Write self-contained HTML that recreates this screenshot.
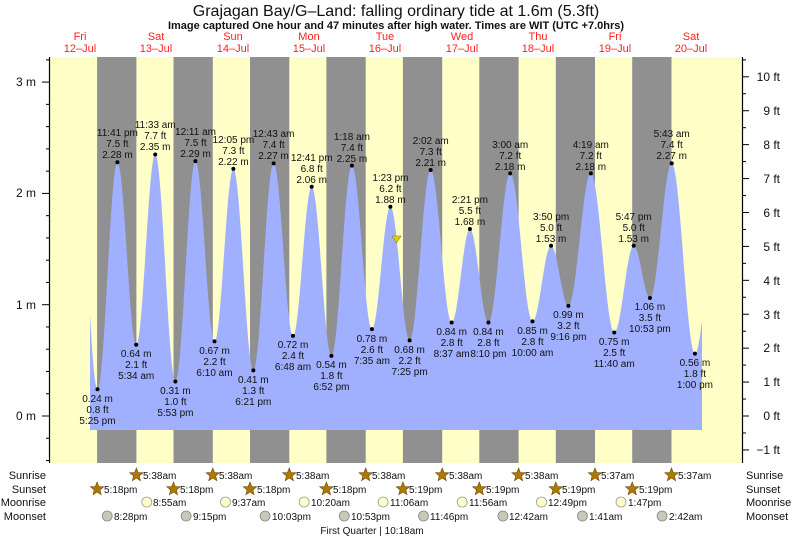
<!DOCTYPE html>
<html><head><meta charset="utf-8"><style>
html,body{margin:0;padding:0;background:#fff;}
svg{display:block;font-family:"Liberation Sans",sans-serif;}
.l text,.l{font-size:10px;fill:#111;text-anchor:middle;}
.d{font-size:11px;fill:#ff2020;text-anchor:middle;}
.ax{font-size:12px;fill:#111;}
.rl{font-size:11px;fill:#111;}
.ev{font-size:10px;fill:#111;}
</style></head><body>
<svg width="793" height="537" viewBox="0 0 793 537" xmlns="http://www.w3.org/2000/svg">
<rect x="0" y="0" width="793" height="537" fill="#fff"/>
<text x="396" y="16" font-size="16" text-anchor="middle" fill="#111">Grajagan Bay/G–Land: falling  ordinary tide at 1.6m (5.3ft)</text>
<text x="396" y="29" font-size="11" font-weight="bold" text-anchor="middle" fill="#111">Image captured One hour and 47 minutes after high water. Times are WIT (UTC +7.0hrs)</text>
<g class="d">
<text x="80" y="40">Fri</text><text x="80" y="52">12–Jul</text>
<text x="156" y="40">Sat</text><text x="156" y="52">13–Jul</text>
<text x="233" y="40">Sun</text><text x="233" y="52">14–Jul</text>
<text x="309" y="40">Mon</text><text x="309" y="52">15–Jul</text>
<text x="385" y="40">Tue</text><text x="385" y="52">16–Jul</text>
<text x="462" y="40">Wed</text><text x="462" y="52">17–Jul</text>
<text x="538" y="40">Thu</text><text x="538" y="52">18–Jul</text>
<text x="615" y="40">Fri</text><text x="615" y="52">19–Jul</text>
<text x="691" y="40">Sat</text><text x="691" y="52">20–Jul</text>
</g>
<rect x="50" y="57" width="692" height="406" fill="#ffffc8"/>
<g fill="#909090">
<rect x="97.1" y="57" width="39.3" height="406"/><rect x="173.5" y="57" width="39.3" height="406"/>
<rect x="250" y="57" width="39.3" height="406"/><rect x="326.4" y="57" width="39.3" height="406"/>
<rect x="402.9" y="57" width="39.3" height="406"/><rect x="479.3" y="57" width="39.3" height="406"/>
<rect x="555.8" y="57" width="39.2" height="406"/><rect x="632.2" y="57" width="39.3" height="406"/>
</g>
<path id="tide" fill="#a0b0ff" d=""/>
<polygon points="392,236 401,236 396.5,243" fill="#d8d020" stroke="#888800" stroke-width="0.6"/>
<g fill="#000" id="dots"></g>
<g class="l">
<text x="97.5" y="402"><tspan x="97.5">0.24 m</tspan><tspan x="97.5" dy="11">0.8 ft</tspan><tspan x="97.5" dy="11">5:25 pm</tspan></text>
<text x="117.4" y="136"><tspan x="117.4">11:41 pm</tspan><tspan x="117.4" dy="11">7.5 ft</tspan><tspan x="117.4" dy="11">2.28 m</tspan></text>
<text x="136.2" y="357"><tspan x="136.2">0.64 m</tspan><tspan x="136.2" dy="11">2.1 ft</tspan><tspan x="136.2" dy="11">5:34 am</tspan></text>
<text x="155.2" y="128"><tspan x="155.2">11:33 am</tspan><tspan x="155.2" dy="11">7.7 ft</tspan><tspan x="155.2" dy="11">2.35 m</tspan></text>
<text x="175.4" y="394"><tspan x="175.4">0.31 m</tspan><tspan x="175.4" dy="11">1.0 ft</tspan><tspan x="175.4" dy="11">5:53 pm</tspan></text>
<text x="195.5" y="135"><tspan x="195.5">12:11 am</tspan><tspan x="195.5" dy="11">7.5 ft</tspan><tspan x="195.5" dy="11">2.29 m</tspan></text>
<text x="214.5" y="354"><tspan x="214.5">0.67 m</tspan><tspan x="214.5" dy="11">2.2 ft</tspan><tspan x="214.5" dy="11">6:10 am</tspan></text>
<text x="233.4" y="143"><tspan x="233.4">12:05 pm</tspan><tspan x="233.4" dy="11">7.3 ft</tspan><tspan x="233.4" dy="11">2.22 m</tspan></text>
<text x="253.3" y="383"><tspan x="253.3">0.41 m</tspan><tspan x="253.3" dy="11">1.3 ft</tspan><tspan x="253.3" dy="11">6:21 pm</tspan></text>
<text x="273.6" y="137"><tspan x="273.6">12:43 am</tspan><tspan x="273.6" dy="11">7.4 ft</tspan><tspan x="273.6" dy="11">2.27 m</tspan></text>
<text x="293" y="348"><tspan x="293">0.72 m</tspan><tspan x="293" dy="11">2.4 ft</tspan><tspan x="293" dy="11">6:48 am</tspan></text>
<text x="311.7" y="161"><tspan x="311.7">12:41 pm</tspan><tspan x="311.7" dy="11">6.8 ft</tspan><tspan x="311.7" dy="11">2.06 m</tspan></text>
<text x="331.4" y="368"><tspan x="331.4">0.54 m</tspan><tspan x="331.4" dy="11">1.8 ft</tspan><tspan x="331.4" dy="11">6:52 pm</tspan></text>
<text x="351.9" y="140"><tspan x="351.9">1:18 am</tspan><tspan x="351.9" dy="11">7.4 ft</tspan><tspan x="351.9" dy="11">2.25 m</tspan></text>
<text x="371.9" y="342"><tspan x="371.9">0.78 m</tspan><tspan x="371.9" dy="11">2.6 ft</tspan><tspan x="371.9" dy="11">7:35 am</tspan></text>
<text x="390.4" y="181"><tspan x="390.4">1:23 pm</tspan><tspan x="390.4" dy="11">6.2 ft</tspan><tspan x="390.4" dy="11">1.88 m</tspan></text>
<text x="409.6" y="353"><tspan x="409.6">0.68 m</tspan><tspan x="409.6" dy="11">2.2 ft</tspan><tspan x="409.6" dy="11">7:25 pm</tspan></text>
<text x="430.7" y="144"><tspan x="430.7">2:02 am</tspan><tspan x="430.7" dy="11">7.3 ft</tspan><tspan x="430.7" dy="11">2.21 m</tspan></text>
<text x="451.7" y="335"><tspan x="451.7">0.84 m</tspan><tspan x="451.7" dy="11">2.8 ft</tspan><tspan x="451.7" dy="11">8:37 am</tspan></text>
<text x="469.9" y="203"><tspan x="469.9">2:21 pm</tspan><tspan x="469.9" dy="11">5.5 ft</tspan><tspan x="469.9" dy="11">1.68 m</tspan></text>
<text x="488.4" y="335"><tspan x="488.4">0.84 m</tspan><tspan x="488.4" dy="11">2.8 ft</tspan><tspan x="488.4" dy="11">8:10 pm</tspan></text>
<text x="510.2" y="148"><tspan x="510.2">3:00 am</tspan><tspan x="510.2" dy="11">7.2 ft</tspan><tspan x="510.2" dy="11">2.18 m</tspan></text>
<text x="532.5" y="334"><tspan x="532.5">0.85 m</tspan><tspan x="532.5" dy="11">2.8 ft</tspan><tspan x="532.5" dy="11">10:00 am</tspan></text>
<text x="551.1" y="220"><tspan x="551.1">3:50 pm</tspan><tspan x="551.1" dy="11">5.0 ft</tspan><tspan x="551.1" dy="11">1.53 m</tspan></text>
<text x="568.4" y="318"><tspan x="568.4">0.99 m</tspan><tspan x="568.4" dy="11">3.2 ft</tspan><tspan x="568.4" dy="11">9:16 pm</tspan></text>
<text x="590.8" y="148"><tspan x="590.8">4:19 am</tspan><tspan x="590.8" dy="11">7.2 ft</tspan><tspan x="590.8" dy="11">2.18 m</tspan></text>
<text x="614.2" y="345"><tspan x="614.2">0.75 m</tspan><tspan x="614.2" dy="11">2.5 ft</tspan><tspan x="614.2" dy="11">11:40 am</tspan></text>
<text x="633.7" y="220"><tspan x="633.7">5:47 pm</tspan><tspan x="633.7" dy="11">5.0 ft</tspan><tspan x="633.7" dy="11">1.53 m</tspan></text>
<text x="649.9" y="310"><tspan x="649.9">1.06 m</tspan><tspan x="649.9" dy="11">3.5 ft</tspan><tspan x="649.9" dy="11">10:53 pm</tspan></text>
<text x="671.7" y="137"><tspan x="671.7">5:43 am</tspan><tspan x="671.7" dy="11">7.4 ft</tspan><tspan x="671.7" dy="11">2.27 m</tspan></text>
<text x="694.9" y="366"><tspan x="694.9">0.56 m</tspan><tspan x="694.9" dy="11">1.8 ft</tspan><tspan x="694.9" dy="11">1:00 pm</tspan></text>
</g>
<line x1="49.5" y1="57" x2="49.5" y2="463" stroke="#000" stroke-width="1.2"/>
<line x1="742.5" y1="57" x2="742.5" y2="463" stroke="#000" stroke-width="1.2"/>
<g id="ticks" stroke="#000" stroke-width="1"></g>
<g class="ax" text-anchor="end">
<text x="36" y="86">3 m</text><text x="36" y="197">2 m</text><text x="36" y="309">1 m</text><text x="36" y="420">0 m</text>
</g>
<g class="ax" text-anchor="end">
<text x="780" y="81">10 ft</text><text x="780" y="115">9 ft</text><text x="780" y="149">8 ft</text><text x="780" y="183">7 ft</text>
<text x="780" y="217">6 ft</text><text x="780" y="251">5 ft</text><text x="780" y="285">4 ft</text><text x="780" y="319">3 ft</text>
<text x="780" y="352">2 ft</text><text x="780" y="386">1 ft</text><text x="780" y="420">0 ft</text><text x="780" y="454">−1 ft</text>
</g>
<g class="rl" text-anchor="end">
<text x="46" y="479">Sunrise</text><text x="46" y="493">Sunset</text><text x="46" y="506">Moonrise</text><text x="46" y="520">Moonset</text>
</g>
<g class="rl">
<text x="746" y="479">Sunrise</text><text x="746" y="493">Sunset</text><text x="746" y="506">Moonrise</text><text x="746" y="520">Moonset</text>
</g>
<g id="icons"></g>
<g class="ev">
<text x="143" y="479">5:38am</text><text x="219" y="479">5:38am</text><text x="296" y="479">5:38am</text><text x="372" y="479">5:38am</text>
<text x="449" y="479">5:38am</text><text x="525" y="479">5:38am</text><text x="601" y="479">5:37am</text><text x="678" y="479">5:37am</text>
<text x="104" y="493">5:18pm</text><text x="180" y="493">5:18pm</text><text x="257" y="493">5:18pm</text><text x="333" y="493">5:18pm</text>
<text x="409" y="493">5:19pm</text><text x="486" y="493">5:19pm</text><text x="562" y="493">5:19pm</text><text x="639" y="493">5:19pm</text>
<text x="153" y="506">8:55am</text><text x="232" y="506">9:37am</text><text x="311" y="506">10:20am</text><text x="390" y="506">11:06am</text>
<text x="469" y="506">11:56am</text><text x="548" y="506">12:49pm</text><text x="628" y="506">1:47pm</text>
<text x="114" y="520">8:28pm</text><text x="193" y="520">9:15pm</text><text x="272" y="520">10:03pm</text><text x="351" y="520">10:53pm</text>
<text x="430" y="520">11:46pm</text><text x="509" y="520">12:42am</text><text x="589" y="520">1:41am</text><text x="669" y="520">2:42am</text>
<text x="372" y="534" text-anchor="middle">First Quarter | 10:18am</text>
</g>
</svg>
<script>
(function(){
var E=[[11.2,2.4],[17.42,0.24],[23.68,2.28],[29.57,0.64],[35.55,2.35],[41.88,0.31],[48.18,2.29],[54.17,0.67],[60.08,2.22],[66.35,0.41],[72.72,2.27],[78.8,0.72],[84.68,2.06],[90.87,0.54],[97.3,2.25],[103.58,0.78],[109.38,1.88],[115.42,0.68],[122.03,2.21],[128.62,0.84],[134.35,1.68],[140.17,0.84],[147,2.18],[154,0.85],[159.83,1.53],[165.27,0.99],[172.32,2.18],[179.67,0.75],[185.78,1.53],[190.88,1.06],[197.72,2.27],[205,0.56],[211.5,1.7]];
function X(t){return 42+t*3.185;} function Y(m){return 416-m*111.3;}
var ns="http://www.w3.org/2000/svg";
function el(tag,attrs,parent){var e=document.createElementNS(ns,tag);for(var k in attrs)e.setAttribute(k,attrs[k]);parent.appendChild(e);return e;}
var d="M90,430";
for(var x=90;x<=702;x+=0.5){var t=(x-42)/3.185,i=0;while(i<E.length-2&&E[i+1][0]<t)i++;
var a=E[i],b=E[i+1],f=(t-a[0])/(b[0]-a[0]);var v=b[1]+(a[1]-b[1])*(1+Math.cos(Math.PI*f))/2;d+="L"+x+","+Y(v).toFixed(1);}
d+="L702,430Z";document.getElementById("tide").setAttribute("d",d);
var g=document.getElementById("dots");
for(var k=1;k<E.length-1;k++){el("circle",{cx:X(E[k][0]),cy:Y(E[k][1]),r:2},g);}
var tk=document.getElementById("ticks");
for(var m=-4;m<=32;m+=2){var y=Y(m/10);el("line",{x1:(m%10==0?42:46),y1:y,x2:49,y2:y},tk);}
for(var h=-2;h<=21;h++){var y2=416-h*0.5*33.92;el("line",{x1:743,y1:y2,x2:(h%2==0?749:746),y2:y2},tk);}
var ic=document.getElementById("icons");
function star(cx,cy){var p=[];for(var j=0;j<10;j++){var r=j%2?3:7,an=-Math.PI/2+j*Math.PI/5;p.push((cx+r*Math.cos(an)).toFixed(1)+","+(cy+r*Math.sin(an)).toFixed(1));}
el("polygon",{points:p.join(" "),fill:"#b07800",stroke:"#6a4800","stroke-width":0.6},ic);}
[136.4,212.8,289.3,365.7,442.2,518.6,595,671.5].forEach(function(x){star(x,475);});
[97.1,173.5,250,326.4,402.9,479.3,555.8,632.2].forEach(function(x){star(x,489);});
[146.8,225.5,304.2,383.1,462.2,541.5,621].forEach(function(x){el("circle",{cx:x,cy:502,r:5,fill:"#ffffc8",stroke:"#999","stroke-width":0.8},ic);});
[107.2,186.1,265.1,344.2,423.5,502.9,582.4,662.1].forEach(function(x){el("circle",{cx:x,cy:516,r:5,fill:"#c8c8b8",stroke:"#888","stroke-width":0.8},ic);});
})();
</script>
</body></html>
